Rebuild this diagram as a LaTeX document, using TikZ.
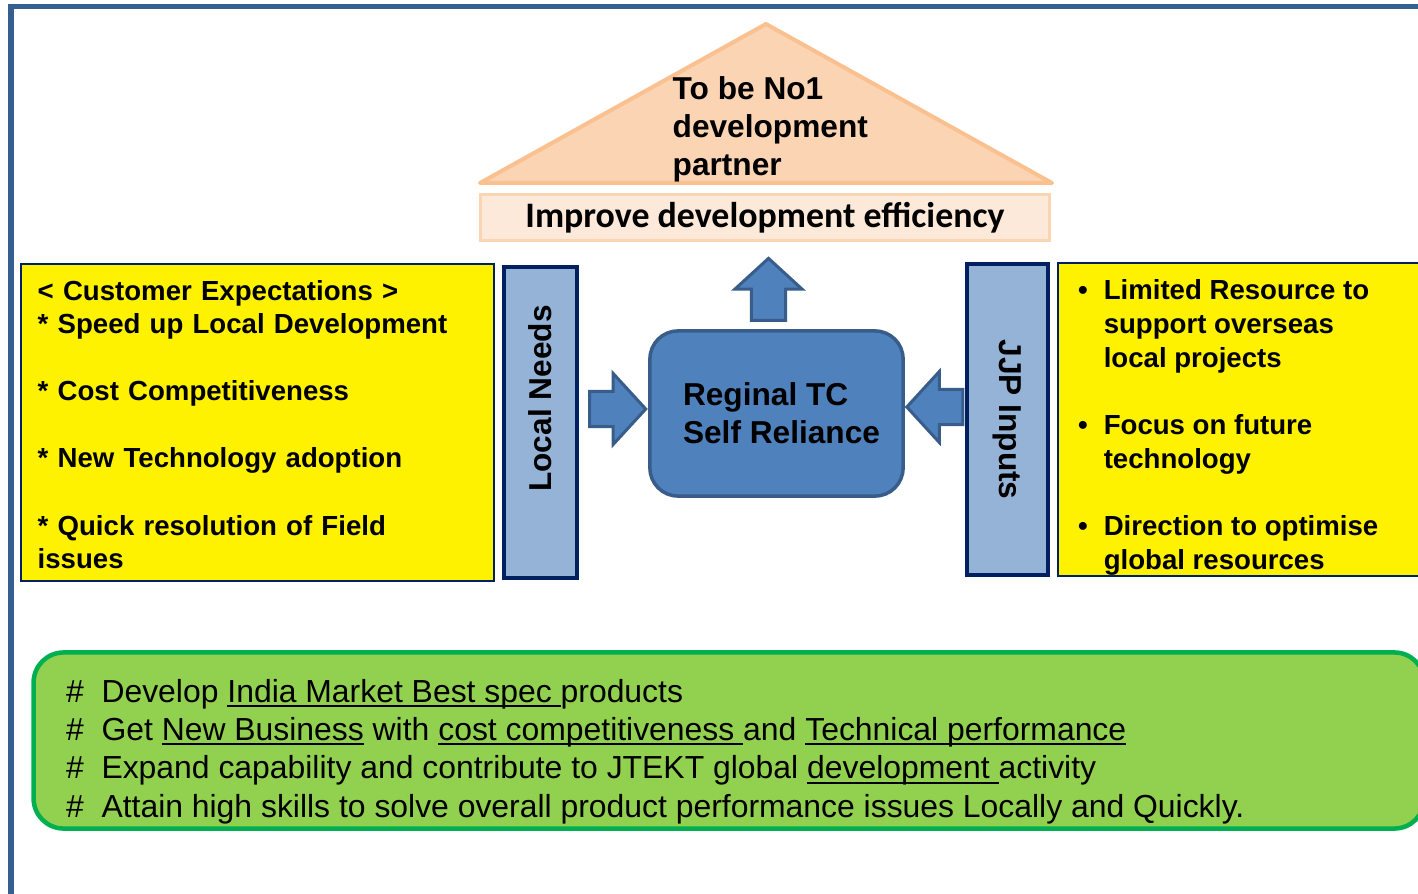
\documentclass[tikz,border=0pt]{standalone}
\usepackage{fontspec}
\setmainfont{Liberation Sans}
\newfontfamily\calfont{Carlito}
\usepackage{tikz}
\usetikzlibrary{positioning}
\usetikzlibrary{shapes,shapes.geometric,shapes.arrows}
\definecolor{frameblue}{HTML}{365F91}
\definecolor{roofpeach}{HTML}{FBD4B4}
\definecolor{roofline}{HTML}{FAC08F}
\definecolor{basepeach}{HTML}{FDE9D9}
\definecolor{navy}{HTML}{002060}
\definecolor{barblue}{HTML}{95B3D7}
\definecolor{coreblue}{HTML}{4F81BD}
\definecolor{coreline}{HTML}{385D8A}
\definecolor{goalgreen}{HTML}{92D050}
\definecolor{goalline}{HTML}{00B050}
\newcommand{\undl}[1]{\setbox0\hbox{#1}\rlap{\rule[-0.05cm]{\wd0}{0.02cm}}\box0\relax}
\newcommand{\bul}{\leavevmode\llap{\textbullet\hspace{0.16cm}}}
\tikzstyle{frame} = [draw=frameblue, line width=0.05cm]
\tikzstyle{roof} = [draw=roofline, fill=roofpeach, line width=0.04cm, line join=round]
\tikzstyle{rooftext} = [draw=none, fill=none, align=left, inner sep=0pt, font=\bfseries\fontsize{9}{10.8}\selectfont]
\tikzstyle{basebox} = [rectangle, draw=roofpeach, fill=basepeach, line width=0.03cm, minimum width=5.68cm, minimum height=0.45cm, inner sep=0pt, font=\calfont\bfseries\fontsize{10.2}{12}\selectfont]
\tikzstyle{notebox} = [rectangle, draw=navy, fill=yellow, line width=0.02cm, minimum height=3.15cm, align=left, font=\bfseries\fontsize{7.85}{9.55}\selectfont]
\tikzstyle{notetext} = [draw=none, fill=none, align=left, inner sep=0pt, font=\bfseries\fontsize{7.85}{9.6}\selectfont]
\tikzstyle{bar} = [rectangle, draw=navy, fill=barblue, line width=0.04cm, minimum height=3.11cm]
\tikzstyle{barlabel} = [draw=none, fill=none, inner sep=0pt, font=\bfseries\fontsize{9}{11}\selectfont]
\tikzstyle{core} = [rectangle, rounded corners=0.28cm, draw=coreline, fill=coreblue, line width=0.035cm, minimum width=2.53cm, minimum height=1.65cm, align=left, font=\bfseries\fontsize{9}{10.8}\selectfont]
\tikzstyle{blockarr} = [single arrow, draw=coreline, fill=coreblue, line width=0.03cm, inner xsep=0pt, inner ysep=0.16cm, single arrow tip angle=95, single arrow head extend=0.18cm]
\tikzstyle{goalbox} = [rectangle, rounded corners=0.3cm, draw=goalline, fill=goalgreen, line width=0.045cm, minimum width=13.9cm, minimum height=1.76cm]
\tikzstyle{goaltext} = [draw=none, fill=none, align=left, inner sep=0pt, font=\fontsize{9.07}{10.9}\selectfont]

\begin{document}
\begin{tikzpicture}[x=0.01cm, y=-0.01cm]
	\path[use as bounding box, clip] (0,0) rectangle (1418,894);
	% frame
	\draw[frame] (11,7) rectangle (1460,920);

	% roof and base
	\draw[roof] (480,183) -- (766,24) -- (1052,183) -- cycle;
	\node [rooftext, anchor=north west] (RT) at (672,76) {To be No1\\development\\partner};
	\node [basebox] (IE) at (765,217.5) {Improve development efficiency};

	% place nodes
	\node [core] (CB) at (776.5,413.5) {\hspace*{0.1cm}Reginal TC\\\hspace*{0.1cm}Self Reliance};
	\node [bar, minimum width=0.73cm] (LN) at (540.5,422.5) {};
	\node [barlabel, rotate=90] (LNt) at ([yshift=0.24cm]LN.center) {Local Needs};
	\node [bar, minimum width=0.81cm] (JJ) at (1007.5,419.5) {};
	\node [barlabel, rotate=-90] (JJt) at (JJ.center) {JJP Inputs};
	\node [notebox, text width=4.39cm, inner xsep=0.17cm, left=0.07cm of LN] (LY)
		{\rule{0pt}{0.24cm}< Customer Expectations >\\{*} Speed up Local Development\\[9.55pt]* Cost Competitiveness\\[9.55pt]* New Technology adoption\\[9.55pt]* Quick resolution of Field\\issues};
	\node [notebox, minimum width=3.82cm, minimum height=3.12cm, right=0.07cm of JJ] (RY) {};
	\node [notetext, anchor=north west] (RYt) at ([xshift=0.46cm,yshift=-0.165cm]RY.north west)
		{\bul Limited Resource to\\support overseas\\local projects\\[9.6pt]\bul Focus on future\\technology\\[9.6pt]\bul Direction to optimise\\global resources};

	% draw arrows
	\node [blockarr, minimum height=0.56cm] (RA) at ([xshift=-0.385cm,yshift=0.045cm]CB.west) {};
	\node [blockarr, minimum height=0.56cm, rotate=180] (LA) at ([xshift=0.38cm,yshift=0.065cm]CB.east) {};
	\node [blockarr, minimum height=0.62cm, inner ysep=0.155cm, single arrow head extend=0.165cm, rotate=90] (UA) at ([xshift=-0.08cm,yshift=0.32cm]CB.north) {};

	% goals
	\node [goalbox] (GB) at (729,740.5) {};
	\node [goaltext, anchor=north west] (GT) at ([xshift=0.34cm,yshift=-0.28cm]GB.north west)
		{\#~~Develop \undl{India Market Best spec }products\\
		\#~~Get \undl{New Business} with \undl{cost competitiveness }and \undl{Technical performance}\\
		\#~~Expand capability and contribute to JTEKT global \undl{development }activity\\
		\#~~Attain high skills to solve overall product performance issues Locally and Quickly.};
\end{tikzpicture}
\end{document}
